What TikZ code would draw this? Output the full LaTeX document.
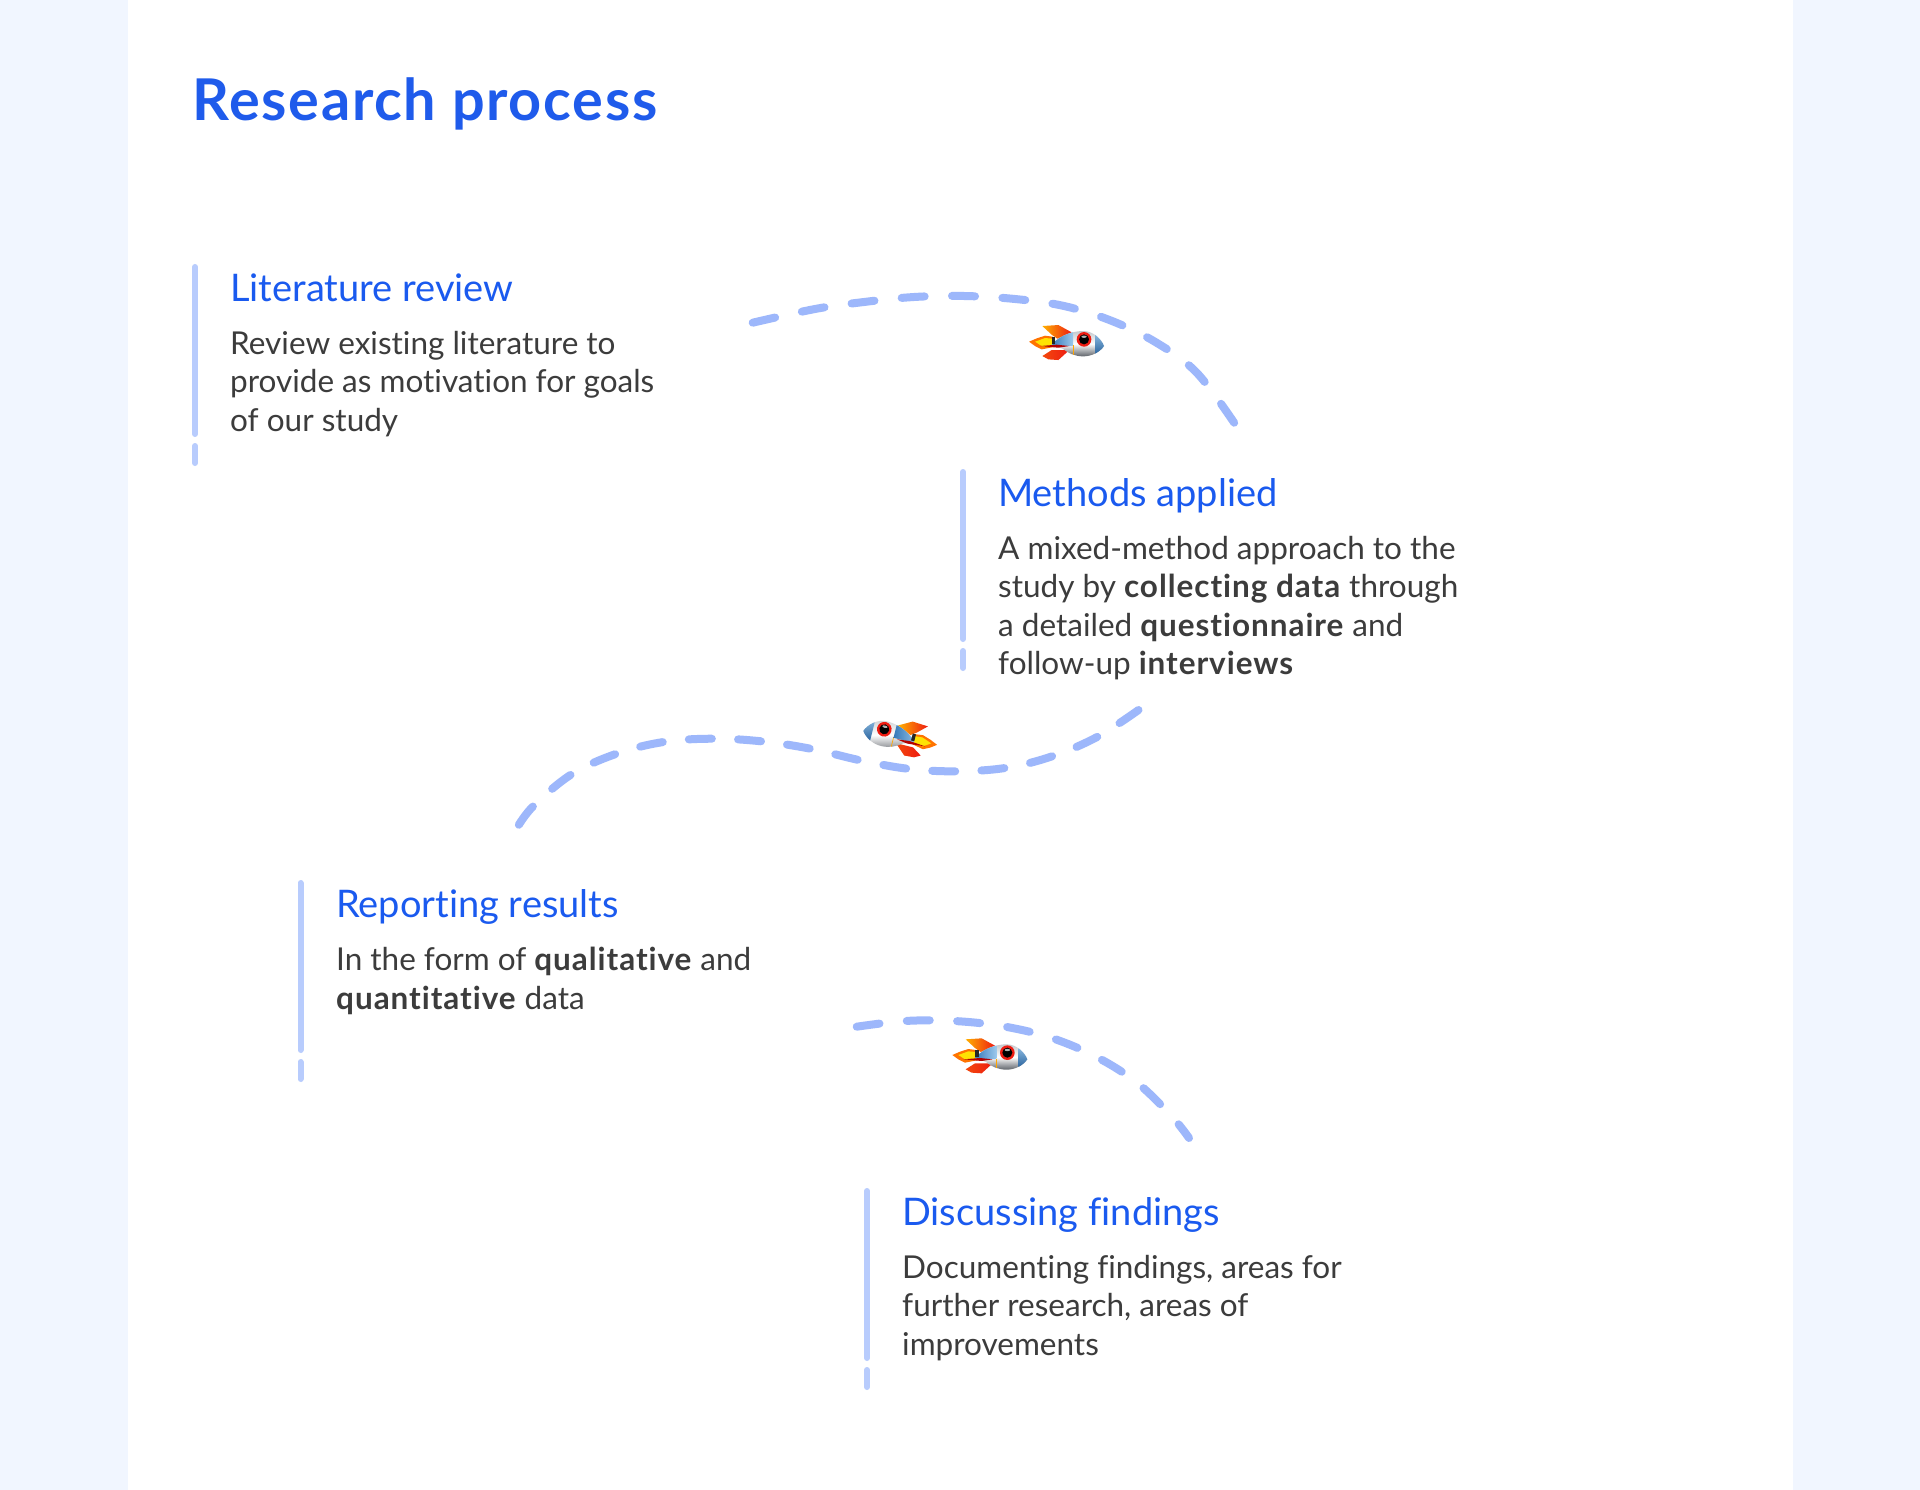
\documentclass[tikz,border=0pt]{standalone}
\usepackage{fontspec}
\setmainfont{Lato}[Ligatures={NoCommon},BoldFeatures={LetterSpace=3}]
\definecolor{pagebg}{HTML}{F1F6FF}
\definecolor{titleblue}{HTML}{1F5BEB}
\definecolor{headblue}{HTML}{1A5AEF}
\definecolor{bodygrey}{HTML}{3C3C3C}
\definecolor{dashblue}{HTML}{9DB7FB}
\definecolor{barblue}{HTML}{B8CCFD}
\definecolor{rkdark}{HTML}{3478B8}
\definecolor{rklight}{HTML}{9CC8EC}
\definecolor{rkdeep}{HTML}{1F5A96}
\definecolor{rkred}{HTML}{EE1C12}
\definecolor{rkamber}{HTML}{FFB000}
\definecolor{rksilver}{HTML}{C4C8CC}
\definecolor{rkshadow}{HTML}{5A5F66}
\tikzset{
  maintitle/.style={anchor=base west,inner sep=0pt,text=titleblue,font=\fontsize{57.6}{60}\selectfont\bfseries},
  headtext/.style={anchor=base west,inner sep=0pt,text=headblue,font=\fontsize{38}{44}\selectfont},
  bodytext/.style={anchor=north west,inner sep=0pt,text=bodygrey,align=left,font=\fontsize{31.5}{38.4}\selectfont},
  barline/.style={draw=barblue,line width=6pt,line cap=round},
  flow/.style={draw=dashblue,line width=8pt,line cap=round,dash pattern=on 23pt off 27.4pt},
  flowlong/.style={flow,dash pattern=on 23pt off 26.25pt},
}
\newcommand{\rocketshape}{%
  \fill[orange!90!red] (-113,-3) -- (-90,-13) -- (-65,-21) -- (-42,-18) -- (-35,12) -- (-75,20) -- (-95,10) -- cycle;
  \fill[yellow!85!orange] (-95,-3) -- (-65,-14) -- (-42,-12) -- (-40,8) -- (-72,12) -- cycle;
  \shade[left color=rkamber,right color=rkred] (-73,-50) -- (-25,-53) -- (15,-31) -- (-28,-12) -- (-45,-24) -- cycle;
  \shade[left color=rkred!70!rkamber,right color=rkred] (-73,40) -- (-45,22) -- (8,22) -- (-25,52) -- (-55,50) -- cycle;
  \path[clip] (-45,5) .. controls (-18,-24) and (20,-35) .. (50,-35) .. controls (80,-35) and (105,-10) .. (112,10) .. controls (100,28) and (75,41) .. (50,41) .. controls (25,41) and (5,32) .. (-12,18) -- cycle;
  \shade[top color=rksilver,bottom color=rkshadow,middle color=white] (-45,-35) rectangle (115,42);
  \shade[left color=rkdark,right color=rklight] (-47,-37) rectangle (19,8);
  \shade[top color=rklight,bottom color=rkdeep] (85,-37) rectangle (115,42);
  \fill[orange!70!yellow] (18,8) rectangle (20,42);
}
\newcommand{\rocketdetail}{%
  \fill[rkred] (52,-10) circle (22);
  \fill[black] (52,-10) circle (15);
  \fill[gray!60] (52,-18) ellipse (8 and 3.5);
  \fill[black!85] (-44,-18) rectangle (-34,3);
  \fill[red!70!black] (-80,10) -- (-30,6) -- (8,10) -- (-25,15) -- cycle;
}
\newcommand{\rocket}{\begin{scope}\rocketshape\end{scope}\rocketdetail}
\begin{document}
\begin{tikzpicture}[x=1pt,y=-1pt]
\useasboundingbox (0,0) rectangle (1920,1490);
\fill[pagebg] (0,0) rectangle (1920,1490);
\fill[white] (128,0) rectangle (1793,1490);

\node[maintitle] (title) at (192,121) {Research process};

% Literature review
\draw[barline] (195,267) -- (195,434);
\draw[barline] (195,446) -- (195,463);
\node[headtext] (h1) at (230,301) {Literature review};
\node[bodytext] (t1) at (230,331) {Review existing literature to\\provide as motivation for goals\\of our study};

% Methods applied
\draw[barline] (963,472) -- (963,639);
\draw[barline] (963,651) -- (963,668);
\node[headtext] (h2) at (998,506) {Methods applied};
\node[bodytext] (t2) at (998,536) {A mixed-method approach to the\\study by \textbf{collecting data} through\\a detailed \textbf{questionnaire} and\\follow-up \textbf{interviews}};

% Reporting results
\draw[barline] (300.5,883) -- (300.5,1050);
\draw[barline] (300.5,1062) -- (300.5,1079);
\node[headtext] (h3) at (336,917) {Reporting results};
\node[bodytext] (t3) at (336,947) {In the form of \textbf{qualitative} and\\\textbf{quantitative} data};

% Discussing findings
\draw[barline] (867,1191) -- (867,1358);
\draw[barline] (867,1370) -- (867,1387);
\node[headtext] (h4) at (902,1225) {Discussing findings};
\node[bodytext] (t4) at (902,1255) {Documenting findings, areas for\\further research, areas of\\improvements};

% Curves
\coordinate (c1a) at (752.7,322.7);
\coordinate (c1b) at (1235,424);
\draw[flow] plot[smooth,tension=0.6] coordinates {(c1a) (815,309) (864,302) (914,297) (964,296) (1015,299) (1064,306) (1112,321) (1157,343) (1197,373) (c1b)};
\coordinate (c2a) at (1138.5,710);
\coordinate (c2b) at (517.7,826.7);
\draw[flowlong] plot[smooth,tension=0.6] coordinates {(c2a) (1097.6,736.7) (1053,756) (1007,767.7) (958,771.3) (910,769) (862,760.7) (813.5,749.3) (765,741.7) (715.5,738.7) (665.4,741.7) (617.8,753.3) (572,774) (533.7,805.7) (c2b)};
\coordinate (c3a) at (856.7,1026.7);
\coordinate (c3b) at (1189,1138);
\draw[flow] plot[smooth,tension=0.6] coordinates {(c3a) (905,1021) (954,1021) (1003,1026.3) (1050.7,1037.7) (1096,1056.7) (1137,1082.7) (1172,1116.7) (c3b)};

% Rockets
\begin{scope}[shift={(1066.7,342.7)},scale=0.3333]\rocket\end{scope}
\begin{scope}[shift={(900.3,736.7)},rotate=-14,xscale=-0.3333,yscale=0.3333]\rocket\end{scope}
\begin{scope}[shift={(990,1056)},scale=0.3333]\rocket\end{scope}
\end{tikzpicture}
\end{document}
